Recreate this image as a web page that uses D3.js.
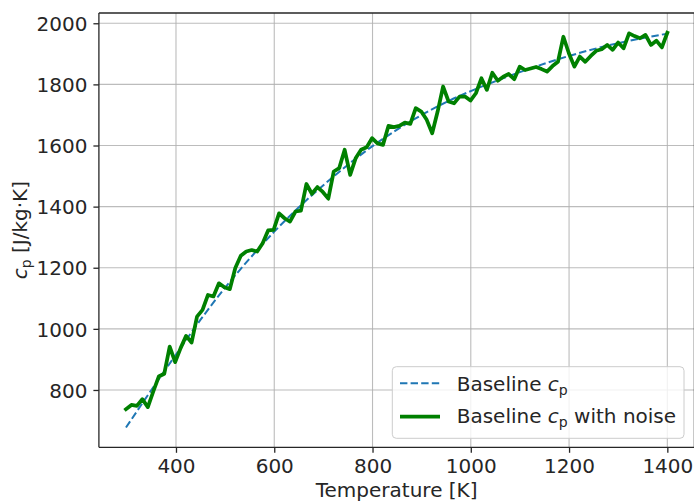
<!DOCTYPE html>
<html>
<head>
<meta charset="utf-8">
<script src="https://cdn.jsdelivr.net/npm/d3@7"></script>
<style>
  html, body { margin: 0; padding: 0; background: #fff; }
  svg { display: block; font-family: "DejaVu Sans", sans-serif; }
</style>
</head>
<body>
<svg id="chart" width="694" height="502"></svg>
<script>
// Temperature grid of the noisy series [K]
const temperature = [
  298.2, 309.3, 320.4, 331.5, 342.7, 353.8, 364.9, 376.1, 387.2, 398.3,
  409.4, 420.6, 431.7, 442.8, 454.0, 465.1, 476.2, 487.4, 498.5, 509.6,
  520.7, 531.9, 543.0, 554.1, 565.3, 576.4, 587.5, 598.7, 609.8, 620.9,
  632.0, 643.2, 654.3, 665.4, 676.6, 687.7, 698.8, 710.0, 721.1, 732.2,
  743.3, 754.5, 765.6, 776.7, 787.9, 799.0, 810.1, 821.3, 832.4, 843.5,
  854.6, 865.8, 876.9, 888.0, 899.2, 910.3, 921.4, 932.5, 943.7, 954.8,
  965.9, 977.1, 988.2, 999.3, 1010.4, 1021.6, 1032.7, 1043.8, 1055.0, 1066.1,
  1077.2, 1088.4, 1099.5, 1110.6, 1121.7, 1132.9, 1144.0, 1155.1, 1166.3, 1177.4,
  1188.5, 1199.6, 1210.8, 1221.9, 1233.0, 1244.2, 1255.3, 1266.4, 1277.6, 1288.7,
  1299.8, 1310.9, 1322.1, 1333.2, 1344.3, 1355.5, 1366.6, 1377.7, 1388.9, 1400.0
];

// Heat capacity with measurement noise [J/kg·K]
const cpNoisy = [
  737, 751, 748, 770, 744, 795, 844, 853, 942, 891,
  937, 977, 955, 1040, 1062, 1111, 1106, 1149, 1136, 1130,
  1199, 1239, 1253, 1258, 1253, 1280, 1322, 1324, 1378, 1362,
  1351, 1384, 1387, 1474, 1442, 1464, 1448, 1426, 1515, 1526,
  1586, 1504, 1558, 1586, 1594, 1624, 1607, 1602, 1664, 1660,
  1664, 1675, 1671, 1722, 1711, 1684, 1640, 1711, 1793, 1744,
  1738, 1760, 1760, 1747, 1771, 1820, 1782, 1838, 1812, 1825,
  1834, 1817, 1858, 1847, 1852, 1857, 1850, 1842, 1860, 1874,
  1956, 1902, 1858, 1891, 1874, 1893, 1910, 1915, 1929, 1913,
  1937, 1918, 1967, 1958, 1951, 1962, 1929, 1943, 1921, 1969
];

// Smooth baseline heat capacity
const baseT = [298.2, 350, 400, 450, 500, 550, 600, 650, 700, 750, 800, 850, 900, 950, 1000, 1100, 1200, 1300, 1400];
const baseCp = [677, 800, 916, 1030, 1135, 1230, 1318, 1398, 1470, 1537, 1598, 1652, 1700, 1742, 1778, 1840, 1893, 1935, 1966];

const xTicks = [400, 600, 800, 1000, 1200, 1400];
const yTicks = [800, 1000, 1200, 1400, 1600, 1800, 2000];

const FONT = 20;
const INK = "#262626";

const svg = d3.select("#chart");
const plot = { left: 98.9, right: 694.4, top: 13.0, bottom: 447.3 };

// Axis limits padded by 5% of the data span on each side
const allT = temperature.concat(baseT);
const allCp = cpNoisy.concat(baseCp);
const [tMin, tMax] = d3.extent(allT);
const [cMin, cMax] = d3.extent(allCp);
const tPad = (tMax - tMin) * 0.05, cPad = (cMax - cMin) * 0.05;

const x = d3.scaleLinear().domain([tMin - tPad, tMax + tPad]).range([plot.left, plot.right]);
const y = d3.scaleLinear().domain([cMin - cPad, cMax + cPad]).range([plot.bottom, plot.top]);

// Grid
const grid = svg.append("g");
grid.selectAll("line.gx").data(xTicks).join("line")
  .attr("x1", d => x(d)).attr("x2", d => x(d))
  .attr("y1", plot.top).attr("y2", plot.bottom)
  .attr("stroke", "#b0b0b0").attr("stroke-width", 1.1).attr("stroke-opacity", 0.85);
grid.selectAll("line.gy").data(yTicks).join("line")
  .attr("x1", plot.left).attr("x2", plot.right)
  .attr("y1", d => y(d)).attr("y2", d => y(d))
  .attr("stroke", "#b0b0b0").attr("stroke-width", 1.1).attr("stroke-opacity", 0.85);

// Series
const baseLine = d3.line().x((d, i) => x(baseT[i])).y(d => y(d)).curve(d3.curveMonotoneX);
svg.append("path").datum(baseCp)
  .attr("d", baseLine)
  .attr("fill", "none").attr("stroke", "#1f77b4")
  .attr("stroke-width", 2).attr("stroke-dasharray", "7.4,3.2");

const noisyLine = d3.line().x((d, i) => x(temperature[i])).y(d => y(d));
svg.append("path").datum(cpNoisy)
  .attr("d", noisyLine)
  .attr("fill", "none").attr("stroke", "#008000")
  .attr("stroke-width", 3.75).attr("stroke-linejoin", "round").attr("stroke-linecap", "square");

// Axes
const xAxis = d3.axisBottom(x).tickValues(xTicks).tickSize(5.5).tickPadding(6.3).tickFormat(d3.format("d"));
const yAxis = d3.axisLeft(y).tickValues(yTicks).tickSize(5.5).tickPadding(5.9).tickFormat(d3.format("d"));

const gx = svg.append("g").attr("transform", `translate(0,${plot.bottom})`).call(xAxis);
const gy = svg.append("g").attr("transform", `translate(${plot.left},0)`).call(yAxis);
[gx, gy].forEach(g => {
  g.select(".domain").remove();
  g.selectAll(".tick line").attr("stroke", INK).attr("stroke-width", 1.3);
  g.selectAll(".tick text").attr("fill", INK)
    .style("font-family", "'DejaVu Sans', sans-serif").style("font-size", FONT + "px");
});
gy.selectAll(".tick text").attr("dy", "0.36em");

// Spines
const spine = svg.append("g").attr("stroke", INK).attr("stroke-width", 1.3).attr("fill", "none");
spine.append("line").attr("x1", plot.left).attr("x2", plot.left).attr("y1", plot.top).attr("y2", plot.bottom);
spine.append("line").attr("x1", plot.left).attr("x2", plot.right).attr("y1", plot.bottom).attr("y2", plot.bottom);
spine.append("line").attr("x1", plot.left).attr("x2", plot.right).attr("y1", plot.top).attr("y2", plot.top);
spine.append("line").attr("x1", plot.right).attr("x2", plot.right).attr("y1", plot.top).attr("y2", plot.bottom);

// Axis labels
svg.append("text")
  .attr("x", (plot.left + plot.right) / 2).attr("y", 497)
  .attr("text-anchor", "middle").attr("fill", INK).style("font-size", FONT + "px")
  .text("Temperature [K]");

const yl = svg.append("text")
  .attr("transform", `translate(27.3,${(plot.top + plot.bottom) / 2}) rotate(-90)`)
  .attr("text-anchor", "middle").attr("fill", INK).style("font-size", FONT + "px");
yl.append("tspan").style("font-style", "italic").text("c");
yl.append("tspan").style("font-size", "14px").attr("dy", 4).text("p");
yl.append("tspan").attr("dy", -4).text(" [J/kg·K]");

// Legend
const lg = svg.append("g");
lg.append("rect")
  .attr("x", 392.3).attr("y", 366.7).attr("width", 291.7).attr("height", 71.6)
  .attr("rx", 4).attr("fill", "#ffffff").attr("fill-opacity", 0.8)
  .attr("stroke", "#cccccc").attr("stroke-width", 1);

lg.append("line").attr("x1", 400).attr("x2", 440).attr("y1", 383.3).attr("y2", 383.3)
  .attr("stroke", "#1f77b4").attr("stroke-width", 2).attr("stroke-dasharray", "7.4,3.2");
lg.append("line").attr("x1", 400).attr("x2", 440).attr("y1", 416.7).attr("y2", 416.7)
  .attr("stroke", "#008000").attr("stroke-width", 3.75);

function legendLabel(yPos, suffix) {
  const t = lg.append("text").attr("x", 456.7).attr("y", yPos)
    .attr("fill", INK).style("font-size", FONT + "px");
  t.append("tspan").text("Baseline ");
  t.append("tspan").style("font-style", "italic").text("c");
  t.append("tspan").style("font-size", "14px").attr("dy", 4).text("p");
  if (suffix) t.append("tspan").attr("dy", -4).text(suffix);
}
legendLabel(390.7, "");
legendLabel(422.7, " with noise");
</script>
</body>
</html>
